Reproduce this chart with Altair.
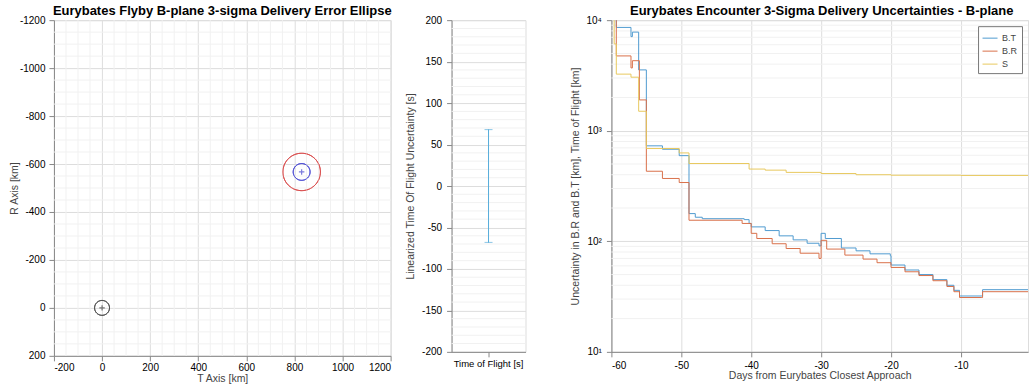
import altair as alt
import pandas as pd
import numpy as np

FONT = "Liberation Sans"

# ---------------- Left panel: B-plane ellipses ----------------
ELL_NAME = ["Eurybates", "Aim point", "3-sigma ellipse"]
ELL_T = [0, 830, 830]
ELL_R = [0, -567, -567]
ELL_SEMI_T = [31, 35, 78]
ELL_SEMI_R = [31, 35, 78]
ELL_COLOR = ["#444444", "#4444d0", "#d84a4a"]
MARK_NAME = ["Eurybates", "Aim point"]
MARK_T = [0, 830]
MARK_R = [0, -567]

T_TICKS = list(range(-200, 1201, 200))
R_TICKS = list(range(-1200, 201, 200))
T_MINOR = [v for v in range(-200, 1201, 50) if v % 200 != 0]
R_MINOR = [v for v in range(-1200, 201, 50) if v % 200 != 0]

# ---------------- Middle panel: TOF uncertainty ----------------
TOF_LABEL = ["Time of Flight [s]"]
TOF_LO = [-68]
TOF_HI = [68]
TOF_TICKS = list(range(-200, 201, 50))
TOF_MINOR = [v for v in range(-200, 201, 10) if v % 50 != 0]

# ---------------- Right panel: uncertainties vs time ----------------
BT_DAY = [-60, -59.3, -57.2, -57.0, -56.1, -55.0, -52.7, -50.3, -48.9, -48.0, -47.0,
          -41.0, -40.3, -40.0, -38.0, -36.0, -34.0, -32.0, -30.3, -30.0, -29.4,
          -27.1, -25.0, -23.0, -20.1, -20.0, -18.0, -16.0, -14.0, -12.0, -11.0,
          -10.2, -7.1, -6.9, 0]
BT_VAL = [11000, 8600, 7100, 7800, 3550, 730, 680, 595, 178, 165, 160,
          157, 145, 135, 125, 112, 103, 96, 91, 118, 106,
          87, 82, 77, 74, 61, 55, 50, 45, 40, 36,
          32, 32, 36.5, 36.5]

BR_DAY = [-60, -59.3, -57.2, -57.0, -56.0, -55.0, -52.7, -50.3, -48.9, -41.3,
          -40.0, -39.2, -37.0, -35.0, -33.0, -30.3, -30.0, -29.2, -26.6, -24.0,
          -22.0, -20.0, -18.0, -16.0, -14.0, -12.0, -11.0, -10.2, -7.1, -6.9, 0]
BR_VAL = [11000, 4750, 3700, 4300, 1900, 430, 370, 340, 155, 145,
          118, 106, 95, 86, 78, 70, 102, 85, 75, 69,
          64, 58, 53, 49, 44, 39, 35, 31, 31, 35, 35]

S_DAY = [-60, -59.6, -59.3, -57.2, -56.1, -55.0, -50.3, -48.9, -40.3, -38.0,
         -35.0, -30.0, -25.0, -20.0, -10.0, 0]
S_VAL = [11000, 6100, 3250, 3050, 1500, 690, 630, 505, 450, 440,
         420, 410, 400, 396, 394, 394]

SERIES = ["B.T", "B.R", "S"]
SERIES_COLOR = ["#4f9bd0", "#d9704a", "#e8c95e"]
DAY_TICKS = list(range(-60, 1, 10))
LOG_TICKS = [10, 100, 1000, 10000]
LOG_MINOR = [m * 10 ** k for k in range(1, 4) for m in range(2, 10)]

GRID_MAJOR = "#e2e2e2"
GRID_MINOR = "#f1f1f1"
FRAME = "#9c9c9c"
AX_TITLE = dict(titleFont=FONT, titleFontSize=10.5, titleFontWeight="normal", titleColor="#444")

# ======== build left ========
rows = []
theta = np.linspace(0, 2 * np.pi, 145)
for n, t0, r0, a, b in zip(ELL_NAME, ELL_T, ELL_R, ELL_SEMI_T, ELL_SEMI_R):
    for i, th in enumerate(theta):
        rows.append({"name": n, "ord": i, "T": t0 + a * np.cos(th), "R": r0 + b * np.sin(th)})
ell_df = pd.DataFrame(rows)
mark_df = pd.DataFrame({"name": MARK_NAME, "T": MARK_T, "R": MARK_R})

xs_left = alt.Scale(domain=[-200, 1200], nice=False, zero=False)
ys_left = alt.Scale(domain=[-1200, 200], nice=False, zero=False, reverse=True)
hyphen = "replace(datum.label, '\u2212', '-')"

left_lines = alt.Chart(ell_df).mark_line(strokeWidth=1).encode(
    x=alt.X("T:Q", scale=xs_left,
            axis=alt.Axis(values=T_TICKS, title="T Axis [km]", grid=True, format="d", labelExpr=hyphen,
                          labelPadding=2, titlePadding=1, **AX_TITLE)),
    y=alt.Y("R:Q", scale=ys_left,
            axis=alt.Axis(values=R_TICKS, title="R Axis [km]", grid=True, format="d", labelExpr=hyphen,
                          labelPadding=4, titlePadding=0, **AX_TITLE)),
    detail="name:N",
    order="ord:Q",
    color=alt.Color("name:N", scale=alt.Scale(domain=ELL_NAME, range=ELL_COLOR), legend=None),
)
left_minor_x = alt.Chart(pd.DataFrame({"T": T_MINOR})).mark_rule(
    color=GRID_MINOR, strokeWidth=1).encode(x=alt.X("T:Q", scale=xs_left))
left_minor_y = alt.Chart(pd.DataFrame({"R": R_MINOR})).mark_rule(
    color=GRID_MINOR, strokeWidth=1).encode(y=alt.Y("R:Q", scale=ys_left))
cross = "M-1,0L1,0M0,-1L0,1"
left_marks = alt.Chart(mark_df).mark_point(shape=cross, size=30, strokeWidth=1.2, filled=False).encode(
    x=alt.X("T:Q", scale=xs_left),
    y=alt.Y("R:Q", scale=ys_left),
    color=alt.Color("name:N", scale=alt.Scale(domain=ELL_NAME, range=ELL_COLOR), legend=None),
)
left = alt.layer(left_lines, left_minor_x, left_minor_y, left_lines, left_marks).properties(
    width=337, height=336,
    title=alt.TitleParams("Eurybates Flyby B-plane 3-sigma Delivery Error Ellipse", offset=2,
                          frame="group", dy=5),
)

# ======== build middle ========
tof_df = pd.DataFrame({"cat": TOF_LABEL, "lo": TOF_LO, "hi": TOF_HI})
ys_mid = alt.Scale(domain=[-200, 200], nice=False, zero=False)
xs_mid = alt.Scale(domain=TOF_LABEL)
mid_rule = alt.Chart(tof_df).mark_rule(color="#5aaedb", strokeWidth=1).encode(
    x=alt.X("cat:N", scale=xs_mid,
            axis=alt.Axis(title=None, labelAngle=0, labelPadding=2, grid=False, labelFontSize=9.5)),
    y=alt.Y("lo:Q", scale=ys_mid,
            axis=alt.Axis(values=TOF_TICKS, title="Linearized Time Of Flight Uncertainty [s]",
                          grid=True, format="d", labelExpr=hyphen, labelPadding=5, titlePadding=6,
                          **AX_TITLE)),
    y2="hi:Q",
)
mid_minor = alt.Chart(pd.DataFrame({"lo": TOF_MINOR})).mark_rule(
    color=GRID_MINOR, strokeWidth=1).encode(y=alt.Y("lo:Q", scale=ys_mid))
mid_cap_lo = alt.Chart(tof_df).mark_tick(color="#5aaedb", size=8, thickness=1, orient="horizontal").encode(
    x=alt.X("cat:N", scale=xs_mid), y=alt.Y("lo:Q", scale=ys_mid))
mid_cap_hi = alt.Chart(tof_df).mark_tick(color="#5aaedb", size=8, thickness=1, orient="horizontal").encode(
    x=alt.X("cat:N", scale=xs_mid), y=alt.Y("hi:Q", scale=ys_mid))
mid = alt.layer(mid_rule, mid_minor, mid_rule, mid_cap_lo, mid_cap_hi).properties(width=74, height=332)

# ======== build right ========
unc_rows = []
for s, days, vals in zip(SERIES, [BT_DAY, BR_DAY, S_DAY], [BT_VAL, BR_VAL, S_VAL]):
    for d, v in zip(days, vals):
        unc_rows.append({"series": s, "day": d, "val": v})
unc_df = pd.DataFrame(unc_rows)

xs_right = alt.Scale(domain=[-60, -0.4], nice=False, zero=False)
ys_right = alt.Scale(type="log", domain=[10, 10000], nice=False)
sup = ("datum.value == 10 ? '10\u00b9' : datum.value == 100 ? '10\u00b2' : "
       "datum.value == 1000 ? '10\u00b3' : '10\u2074'")

right_lines = alt.Chart(unc_df).mark_line(interpolate="step-after", strokeWidth=1, clip=True).encode(
    x=alt.X("day:Q", scale=xs_right,
            axis=alt.Axis(values=DAY_TICKS, title="Days from Eurybates Closest Approach", grid=True,
                          format="d", labelExpr=hyphen, labelPadding=4, titlePadding=0, **AX_TITLE)),
    y=alt.Y("val:Q", scale=ys_right,
            axis=alt.Axis(values=LOG_TICKS, title="Uncertainty in B.R and B.T [km], Time of Flight [km]",
                          grid=True, labelExpr=sup, labelPadding=5, titlePadding=6, **AX_TITLE)),
    color=alt.Color("series:N", scale=alt.Scale(domain=SERIES, range=SERIES_COLOR),
                    legend=alt.Legend(title=None, orient="top-right", offset=6,
                                      symbolType="M-1,0L1,0", symbolSize=225, symbolStrokeWidth=1,
                                      labelFont=FONT, labelFontSize=9, labelColor="#444",
                                      strokeColor="#777", fillColor="white", padding=4,
                                      rowPadding=-4, labelOffset=4)),
    detail="series:N",
)
right_minor = alt.Chart(pd.DataFrame({"val": LOG_MINOR})).mark_rule(
    color=GRID_MINOR, strokeWidth=1).encode(y=alt.Y("val:Q", scale=ys_right))
right = alt.layer(right_minor, right_lines).properties(
    width=417, height=332,
    title=alt.TitleParams("Eurybates Encounter 3-Sigma Delivery Uncertainties - B-plane", offset=2,
                          frame="group", dx=2, dy=5),
)

inner = alt.hconcat(left, mid, spacing=12)
chart = alt.hconcat(inner, right, spacing=43).resolve_scale(color="independent").properties(
    padding={"left": 8, "top": 4, "right": 0, "bottom": 0}
).configure_view(stroke=FRAME).configure_axis(
    labelFont=FONT, labelFontSize=9, labelColor="#555",
    titleFont=FONT, titleFontSize=10.5, titleFontWeight="normal", titleColor="#444",
    domainColor=FRAME, gridColor=GRID_MAJOR, ticks=False,
).configure_title(
    font=FONT, fontSize=8.5, fontWeight="bold", color="#111"
).configure(background="white")

chart.save("out.html", embed_options={"renderer": "svg", "actions": False})
